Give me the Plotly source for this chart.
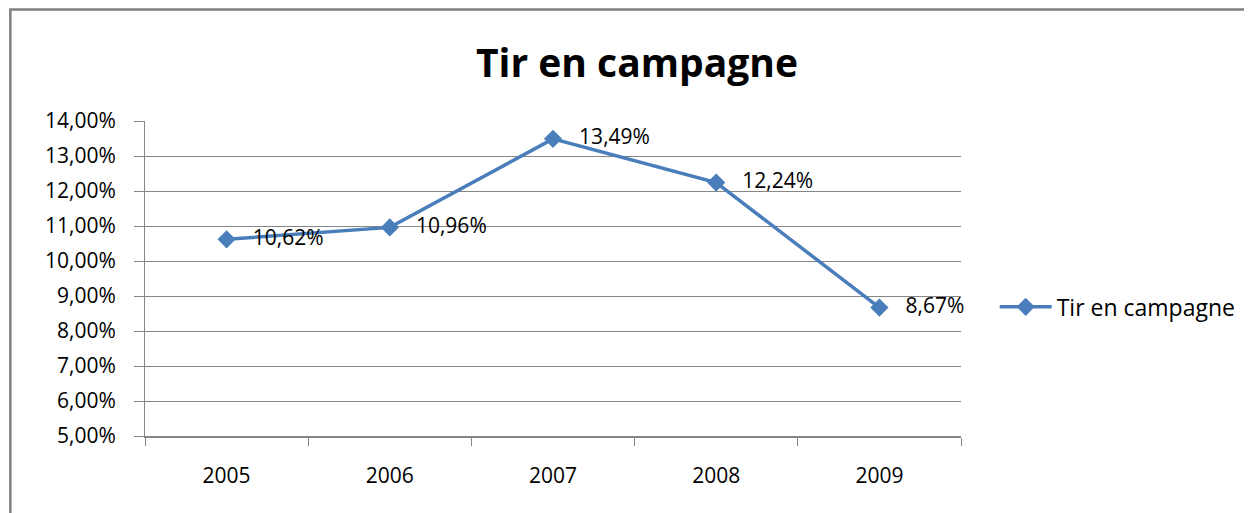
import plotly.graph_objects as go

years = ["2005", "2006", "2007", "2008", "2009"]
rates = [0.1062, 0.1096, 0.1349, 0.1224, 0.0867]
labels = ["10,62%", "10,96%", "13,49%", "12,24%", "8,67%"]
series_name = "Tir en campagne"
chart_title = "Tir en campagne"

blue = "#4a7ebb"
grey = "#868686"
font_family = "'Open Sans', sans-serif"

fig = go.Figure()

fig.add_trace(go.Scatter(
    x=years, y=rates,
    mode="lines+markers+text",
    name=series_name,
    text=["   " + t for t in labels],
    textposition="middle right",
    textfont=dict(size=21, color="#000000", family=font_family),
    line=dict(color=blue, width=3.5),
    marker=dict(symbol="diamond", size=14, color=blue),
    cliponaxis=False,
))

# the page body adds an 8px margin, so the figure is 8px smaller
fig.update_layout(
    width=1244, height=505,
    paper_bgcolor="white", plot_bgcolor="white",
    separators=", ",
    margin=dict(l=137, r=290, t=113, b=77),
    title=dict(text="<b>" + chart_title + "</b>", x=0.5056, xanchor="center",
               y=0.891, yanchor="middle",
               font=dict(size=39, color="#000000", family=font_family)),
    font=dict(family=font_family, color="#000000"),
    showlegend=True,
    legend=dict(x=1.04, xanchor="left", y=0.41, yanchor="middle",
                font=dict(size=23, color="#000000", family=font_family),
                itemwidth=52, bgcolor="rgba(0,0,0,0)"),
    xaxis=dict(
        type="category", range=[-0.5, len(years) - 0.5],
        tickson="boundaries", ticks="outside", ticklen=8,
        tickcolor=grey, showline=True, linecolor=grey, linewidth=2,
        showgrid=False, tickfont=dict(size=21), ticklabelstandoff=20,
    ),
    yaxis=dict(
        range=[0.05, 0.14], dtick=0.01, tickformat=".2%",
        ticks="outside", ticklen=10, tickcolor=grey,
        showline=True, linecolor=grey, linewidth=1,
        showgrid=True, gridcolor=grey, gridwidth=1, zeroline=False,
        tickfont=dict(size=21), ticklabelstandoff=14,
    ),
    shapes=[dict(type="rect", xref="paper", yref="paper",
                 x0=-0.165, x1=1.36, y0=-0.3, y1=1.354,
                 line=dict(color="#808080", width=2.5))],
)

fig.write_html("out.html")
